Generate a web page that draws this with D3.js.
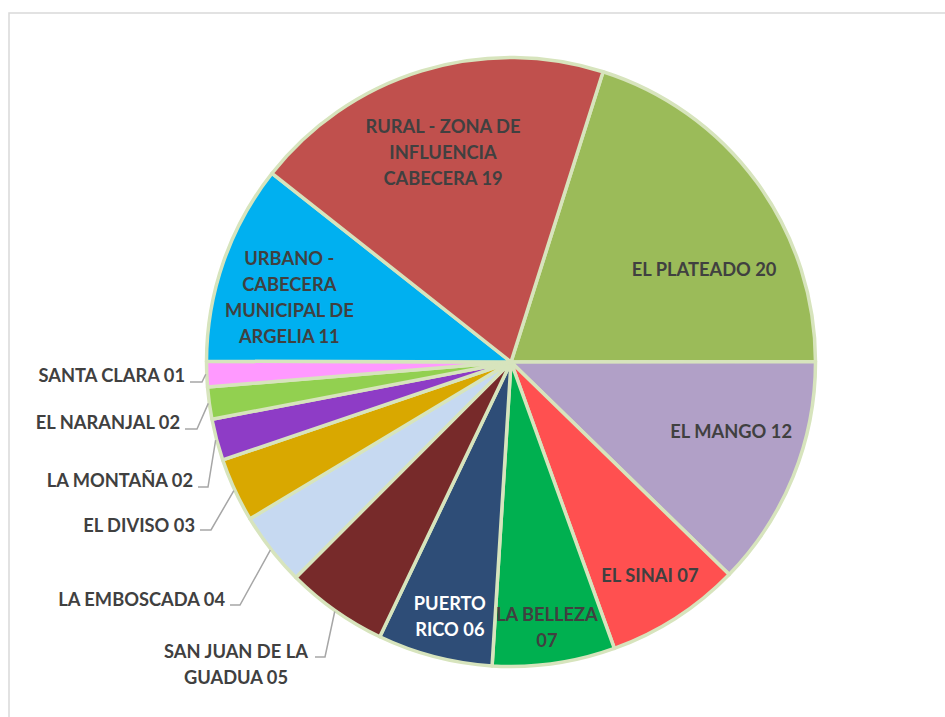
<!DOCTYPE html>
<html><head><meta charset="utf-8">
<script src="https://cdn.jsdelivr.net/npm/d3@7"></script>
<style>body{margin:0;background:#fff}svg{display:block}</style>
</head><body>
<script>
// ---- DATA ----
const categories = ["EL PLATEADO","EL MANGO","EL SINAI","LA BELLEZA","PUERTO RICO","SAN JUAN DE LA GUADUA","LA EMBOSCADA","EL DIVISO","LA MONTAÑA","EL NARANJAL","SANTA CLARA","URBANO - CABECERA MUNICIPAL DE ARGELIA","RURAL - ZONA DE INFLUENCIA CABECERA"];
const values = [20.1, 12.3, 7.2, 6.5, 6.1, 5.4, 3.9, 3.4, 2.2, 1.7, 1.35, 10.6, 19.25];
const labelTexts = [
  ["EL PLATEADO 20"],["EL MANGO 12"],["EL SINAI 07"],["LA BELLEZA","07"],["PUERTO","RICO 06"],
  ["SAN JUAN DE LA","GUADUA 05"],["LA EMBOSCADA 04"],["EL DIVISO 03"],["LA MONTAÑA 02"],
  ["EL NARANJAL 02"],["SANTA CLARA 01"],["URBANO -","CABECERA","MUNICIPAL DE","ARGELIA 11"],
  ["RURAL - ZONA DE","INFLUENCIA","CABECERA 19"]];
const colors = ["#9bbb59","#b1a0c7","#ff5050","#00b050","#2e4d77","#772a2a","#c6d9f1","#d9a800","#8e3cc6","#92d050","#ff99ff","#00b0f0","#c0504d"];

// ---- LAYOUT ----
const W=945,H=717, cx=511, cy=362, R=304.5;
const startDeg = 17.6;
// inside labels: [angleDeg, radius] ; outside: elbow point & text anchor
const labelLayout = [
  {type:"in", a:64.5, r:214},
  {type:"in", a:107.6, r:231},
  {type:"in", a:147, r:255},
  {type:"in", a:172.3, r:268},
  {type:"in", a:193.5, r:262, fill:"#fff"},
  {type:"out", ex:325, ey:657, tx:236, ty:652, anchor:"middle", lx:315},
  {type:"out", ex:240, ey:605, tx:225, ty:600, anchor:"end"},
  {type:"out", ex:211, ey:530, tx:195, ty:526, anchor:"end"},
  {type:"out", ex:208, ey:487, tx:193, ty:481, anchor:"end"},
  {type:"out", ex:197, ey:429, tx:180, ty:423, anchor:"end"},
  {type:"out", ex:202, ey:382, tx:185, ty:376, anchor:"end"},
  {type:"in", a:286.3, r:231},
  {type:"in", a:-18, r:220}
];
const lineH = 26;
const fontSize = 18.3;

const svg = d3.select("body").append("svg").attr("width",W).attr("height",H);
svg.append("rect").attr("x",9).attr("y",13).attr("width",W+20).attr("height",H+20)
  .attr("fill","#fff").attr("stroke","#d9d9d9").attr("stroke-width",1.5);

const rad = d=>d*Math.PI/180;
const pie = d3.pie().sort(null).value(d=>d).startAngle(rad(startDeg)).endAngle(rad(startDeg)+2*Math.PI);
const arcs = pie(values);
const arc = d3.arc().innerRadius(0).outerRadius(R);
const g = svg.append("g").attr("transform",`translate(${cx},${cy})`);
g.selectAll("path").data(arcs).join("path")
  .attr("d",arc).attr("fill",(d,i)=>colors[i])
  .attr("stroke","#d7e4bd").attr("stroke-width",3.5).attr("stroke-linejoin","round");

const font = "Lato, 'Open Sans', sans-serif";
arcs.forEach((d,i)=>{
  const L = labelLayout[i], lines = labelTexts[i];
  if(L.type==="in"){
    const x = cx + L.r*Math.sin(rad(L.a)), y = cy - L.r*Math.cos(rad(L.a));
    const t = svg.append("text").attr("text-anchor","middle").attr("font-family",font)
      .attr("font-weight","bold").attr("font-size",fontSize).attr("fill",L.fill||"#404040");
    lines.forEach((s,k)=>t.append("tspan").attr("x",x).attr("y",y+(k-(lines.length-1)/2)*lineH).attr("dy","0.35em").text(s));
  } else {
    const m = (d.startAngle+d.endAngle)/2;
    const px = cx + (R+1)*Math.sin(m), py = cy - (R+1)*Math.cos(m);
    const lx = L.lx!==undefined ? L.lx : L.tx+5;
    svg.append("path").attr("d",d3.line()([[lx,L.ey],[L.ex,L.ey],[px,py]]))
      .attr("fill","none").attr("stroke","#a6a6a6").attr("stroke-width",1.5);
    const t = svg.append("text").attr("text-anchor",L.anchor).attr("font-family",font)
      .attr("font-weight","bold").attr("font-size",fontSize).attr("fill","#404040");
    lines.forEach((s,k)=>t.append("tspan").attr("x",L.tx).attr("y",L.ty+k*lineH).attr("dy","0.35em").text(s));
  }
});
</script>
</body></html>
